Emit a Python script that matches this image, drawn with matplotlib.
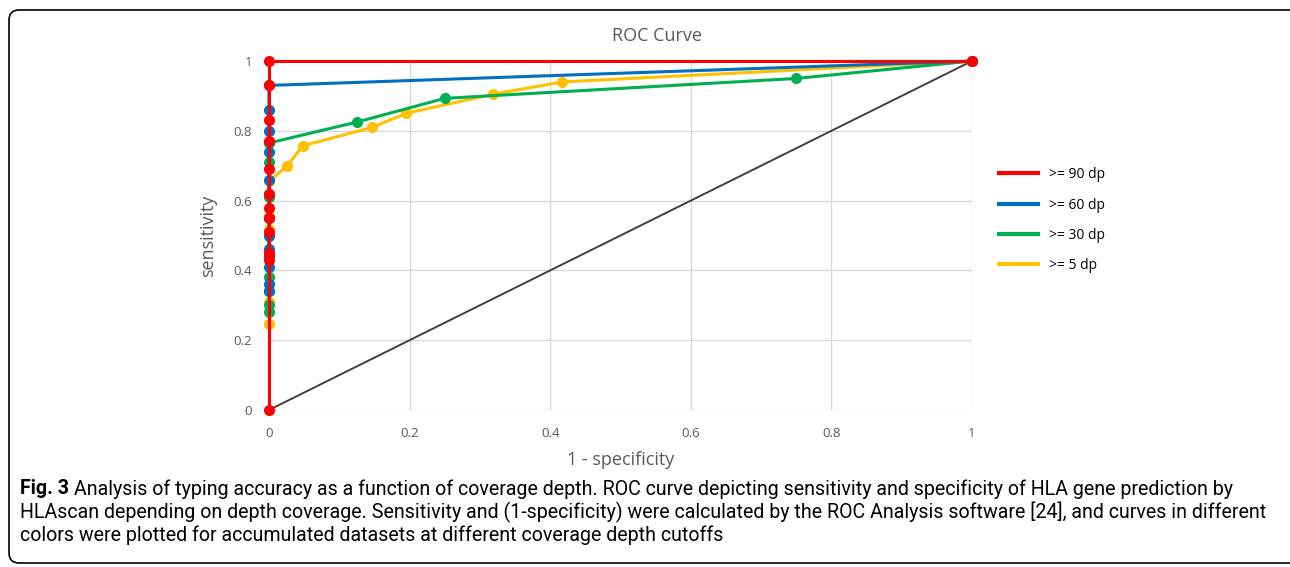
import matplotlib
matplotlib.use('Agg')
import matplotlib.pyplot as plt
from matplotlib.patches import FancyBboxPatch
from matplotlib.transforms import IdentityTransform

# ROC points (x = 1 - specificity, y = sensitivity)
red_x    = [0, 0, 0, 0, 0, 0, 0, 0, 0, 0, 0, 0, 1]
red_y    = [0, 0.43, 0.45, 0.51, 0.55, 0.58, 0.62, 0.69, 0.77, 0.83, 0.93, 1.0, 1.0]
blue_x   = [0, 0, 0, 0, 0, 0, 0, 0, 0, 0, 0, 0, 0, 1]
blue_y   = [0.34, 0.36, 0.41, 0.44, 0.46, 0.50, 0.55, 0.62, 0.66, 0.74, 0.80, 0.86, 0.93, 1.0]
green_x  = [0, 0, 0, 0, 0, 0, 0, 0, 0.125, 0.25, 0.75, 1]
green_y  = [0.28, 0.30, 0.34, 0.38, 0.55, 0.61, 0.71, 0.765, 0.825, 0.893, 0.95, 1.0]
yellow_x = [0, 0, 0, 0, 0, 0.026, 0.048, 0.147, 0.195, 0.319, 0.417, 1]
yellow_y = [0.245, 0.31, 0.52, 0.555, 0.655, 0.70, 0.757, 0.81, 0.85, 0.905, 0.94, 1.0]
diag = [0, 1]

labels = ['>= 90 dp', '>= 60 dp', '>= 30 dp', '>= 5 dp']
colors = ['#FF0000', '#0070C0', '#00B050', '#FFC000']
ticks = [0, 0.2, 0.4, 0.6, 0.8, 1]
tick_labels = ['0', '0.2', '0.4', '0.6', '0.8', '1']

FONT = ['Open Sans', 'DejaVu Sans']
CAP = ['Roboto', 'DejaVu Sans']
GREY = '#595959'
CAP_SIZE = 14.1

fig = plt.figure(figsize=(12.9, 5.67), dpi=100)
ax = fig.add_axes([0.2085, 0.2769, 0.545, 0.6155])

ax.plot(diag, diag, color='#404040', lw=1.4, zorder=2)

series = [(yellow_x, yellow_y, 3), (green_x, green_y, 4), (blue_x, blue_y, 5), (red_x, red_y, 6)]
handles = {}
for (xs, ys, z), c in zip(series, colors[::-1]):
    h, = ax.plot(xs, ys, color=c, lw=2.2, marker='o', ms=7, clip_on=False, zorder=z)
    handles[c] = h

ax.set_xlim(0, 1)
ax.set_ylim(0, 1)
ax.set_xticks(ticks)
ax.set_yticks(ticks)
ax.set_xticklabels(tick_labels)
ax.set_yticklabels(tick_labels)
ax.grid(True, color='#D9D9D9', lw=1)
ax.set_axisbelow(True)
for s in ax.spines.values():
    s.set_visible(False)
ax.tick_params(length=0, pad=12, labelsize=9.5, labelcolor=GREY)
ax.tick_params(axis='y', pad=12)
for t in ax.get_xticklabels() + ax.get_yticklabels():
    t.set_family(FONT)

ax.set_xlabel('1 - specificity', fontsize=13, color=GREY, family=FONT, labelpad=8)
ax.set_ylabel('sensitivity', fontsize=13, color=GREY, family=FONT, labelpad=12)
fig.text(0.509, 0.937, 'ROC Curve', fontsize=13, color=GREY, family=FONT,
         ha='center', va='center')

leg = fig.legend([handles[c] for c in colors], labels, loc='upper left',
                 bbox_to_anchor=(0.765, 0.727), frameon=False,
                 prop={'family': FONT, 'size': 10}, handlelength=2.8,
                 labelspacing=1.1)
for h in leg.legend_handles:
    h.set_marker('')
    h.set_linewidth(3)

# caption
t1 = fig.text(20 / 1290, 1 - 489 / 567, 'Fig. 3', fontsize=CAP_SIZE, family=CAP,
              weight='bold', va='center')
ax.annotate(' Analysis of typing accuracy as a function of coverage depth. ROC curve '
            'depicting sensitivity and specificity of HLA gene prediction by',
            xy=(1, 0.5), xycoords=t1, va='center', fontsize=CAP_SIZE, family=CAP,
            annotation_clip=False)
fig.text(20 / 1290, 1 - 512 / 567,
         'HLAscan depending on depth coverage. Sensitivity and (1-specificity) were '
         'calculated by the ROC Analysis software [24], and curves in different',
         fontsize=CAP_SIZE, family=CAP, va='center')
fig.text(20 / 1290, 1 - 535 / 567,
         'colors were plotted for accumulated datasets at different coverage depth cutoffs',
         fontsize=CAP_SIZE, family=CAP, va='center')

frame = FancyBboxPatch((9, 4), 1300, 553, boxstyle='round,pad=0,rounding_size=10',
                       transform=IdentityTransform(), fill=False, ec='black', lw=1.2)
fig.add_artist(frame)

fig.savefig('out.png', dpi=100)
